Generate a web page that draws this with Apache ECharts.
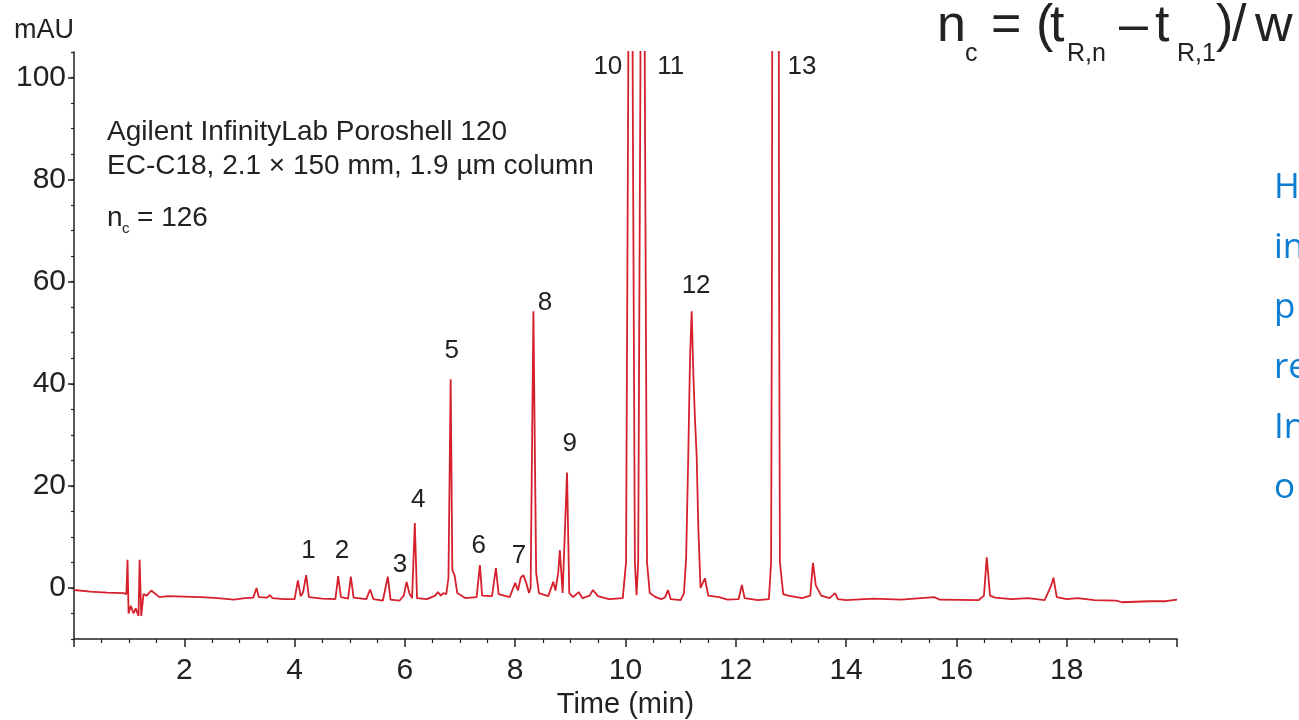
<!DOCTYPE html>
<html>
<head>
<meta charset="utf-8">
<script src="https://cdn.jsdelivr.net/npm/echarts@6/dist/echarts.min.js"></script>
<style>
    html, body { margin: 0; padding: 0; background: #fff; }
    #chart { width: 1299px; height: 720px; }
</style>
</head>
<body>
<div id="chart"></div>
<script>
// chromatogram trace (time in min, signal in mAU)
var traceTimes = [
    0.00, 0.30, 0.60, 0.90, 0.95, 0.97, 0.99, 1.03, 1.08, 1.12, 1.17, 1.19, 1.22, 1.26, 1.32, 1.40,
    1.55, 1.70, 2.00, 2.30, 2.60, 2.90, 3.10, 3.25, 3.31, 3.35, 3.50, 3.55, 3.60, 3.80,
    4.00, 4.06, 4.11, 4.15, 4.21, 4.26, 4.50, 4.74, 4.79, 4.84, 4.97, 5.02, 5.07, 5.30, 5.37, 5.43,
    5.60, 5.69, 5.74, 5.90, 5.98, 6.03, 6.08, 6.13, 6.18, 6.22, 6.40, 6.55, 6.60, 6.65, 6.70, 6.75,
    6.79, 6.83, 6.86, 6.90, 6.95, 7.10, 7.30, 7.36, 7.40, 7.58, 7.65, 7.70, 7.90, 8.00, 8.05, 8.10,
    8.15, 8.20, 8.25, 8.28, 8.33, 8.38, 8.43, 8.60, 8.69, 8.73, 8.78, 8.81, 8.86, 8.94, 8.98, 9.05,
    9.15, 9.22, 9.35, 9.41, 9.50, 9.70, 9.95,
    10.01, 10.05, 10.09, 10.13, 10.17, 10.20, 10.23, 10.27, 10.31, 10.35, 10.39, 10.44,
    10.55, 10.65, 10.72, 10.77, 10.82, 11.00, 11.06, 11.10, 11.14, 11.17, 11.20, 11.23, 11.26, 11.29,
    11.32, 11.36, 11.44, 11.50, 11.70, 11.85, 12.05, 12.11, 12.16, 12.40, 12.60,
    12.64, 12.655, 12.67, 12.72, 12.77, 12.785, 12.80, 12.86, 12.95, 13.20, 13.35, 13.40, 13.45, 13.48,
    13.55, 13.70, 13.80, 13.85, 14.00, 14.50, 15.00, 15.60, 15.70, 16.40, 16.50, 16.55, 16.61, 16.70,
    17.00, 17.30, 17.60, 17.72, 17.76, 17.82, 18.00, 18.20, 18.50, 18.90, 19.00, 19.50, 19.80, 20.00
];
var traceValues = [
    -0.4, -0.7, -0.9, -1.0, -1.2, 5.5, -5.0, -3.5, -5.0, -4.0, -5.5, 5.5, -5.5, -1.2, -1.5, -0.5,
    -1.8, -1.6, -1.7, -1.8, -2.0, -2.3, -2.0, -1.9, 0.0, -1.8, -1.9, -1.4, -2.0, -2.2,
    -2.2, 1.5, -1.6, -1.0, 2.5, -1.8, -2.1, -2.2, 2.3, -1.8, -2.1, 2.2, -1.9, -2.2, -0.3, -2.2,
    -2.5, 2.2, -2.3, -2.5, -1.5, 1.2, -1.0, -2.0, 12.7, -2.0, -2.2, -1.5, -0.8, -1.5, -1.0, -1.2,
    2.0, 40.9, 3.5, 2.5, -1.0, -2.0, -1.8, 4.5, -1.5, -1.6, 3.9, -1.2, -1.8, 1.0, -0.5, 2.0,
    2.5, 1.0, -1.0, 0.0, 54.2, 3.0, -1.0, -1.6, 1.2, -0.5, 3.0, 7.4, -1.0, 22.6, -1.0, -1.8,
    -0.8, -2.0, -1.5, -0.4, -1.6, -2.2, -2.0,
    5.0, 100, 400, 100, 5.0, -1.4, 5.0, 100, 400, 100, 5.0, -1.0,
    -1.8, -2.2, -1.8, -0.4, -2.2, -2.4, -1.0, 6.0, 27, 45, 54.2, 42, 33, 26,
    12, 0.0, 1.9, -1.5, -1.8, -2.3, -2.2, 0.6, -2.0, -2.4, -2.2,
    5.0, 60, 200, 600, 200, 60, 5.0, -1.2, -1.5, -2.0, -1.5, 4.9, 0.5, 0.2,
    -1.5, -2.0, -1.0, -2.2, -2.4, -2.1, -2.3, -1.8, -2.3, -2.4, -1.5, 6.0, -1.5, -1.9,
    -2.2, -2.0, -2.4, 0.5, 2.0, -1.8, -2.2, -2.0, -2.4, -2.5, -2.8, -2.6, -2.6, -2.3
];

// peak numbers and where they sit
var peakNames = ['1', '2', '3', '4', '5', '6', '7', '8', '9', '10', '11', '12', '13'];
var peakLabelTimes = [4.25, 4.86, 5.91, 6.24, 6.85, 7.34, 8.07, 8.54, 8.99, 9.68, 10.82, 11.28, 13.2];
var peakLabelValues = [7.2, 7.2, 4.5, 17.2, 46.4, 8.2, 6.2, 55.9, 28.3, 102.1, 102.1, 59.1, 102.1];

var yTickValues = [0, 20, 40, 60, 80, 100];

var FONT = '"Liberation Sans Narrow", "Liberation Sans", sans-serif';
var INK = '#222';

var trace = traceTimes.map(function (t, i) { return [t, traceValues[i]]; });
var labelPts = peakNames.map(function (n, i) { return [peakLabelTimes[i], peakLabelValues[i], n]; });

var chart = echarts.init(document.getElementById('chart'));

function txt(text, left, top, size) {
    return { type: 'text', left: left, top: top,
             style: { text: text, font: size + 'px ' + FONT, fill: INK } };
}

var option = {
    backgroundColor: '#fff',
    animation: false,
    grid: {
        left: 74, right: 122, top: 52, bottom: 81,
        containLabel: false,
        outerBoundsMode: 'none'
    },
    xAxis: {
        type: 'value',
        min: 0, max: 20, interval: 2,
        axisLine: { onZero: false, lineStyle: { color: '#222', width: 1.5 } },
        axisTick: { length: 8, lineStyle: { color: '#222', width: 1.5 } },
        minorTick: { show: true, splitNumber: 4, length: 4, lineStyle: { color: '#222', width: 1.2 } },
        splitLine: { show: false },
        axisLabel: {
            fontFamily: FONT, fontSize: 30, color: INK, margin: 17,
            formatter: function (v) { return (v === 0 || v === 20) ? '' : v; }
        },
        name: 'Time (min)',
        nameLocation: 'middle',
        nameGap: 46,
        nameTextStyle: { fontFamily: FONT, fontSize: 29, color: INK }
    },
    yAxis: [{
        type: 'value',
        min: -10, max: 105,
        position: 'left',
        axisLine: { show: true, onZero: false, lineStyle: { color: '#222', width: 1.5 } },
        axisTick: { show: true, length: 6, customValues: yTickValues, lineStyle: { color: '#222', width: 1.5 } },
        splitLine: { show: false },
        axisLabel: { customValues: yTickValues, fontFamily: FONT, fontSize: 30, color: INK, margin: 8 },
        name: 'mAU',
        nameLocation: 'end',
        nameGap: 8,
        nameTextStyle: { fontFamily: FONT, fontSize: 27, color: INK, align: 'right', verticalAlign: 'bottom' }
    }, {
        // minor ticks every 5 mAU
        type: 'value',
        min: -10, max: 105, interval: 5,
        position: 'left', offset: 0,
        axisLine: { show: false, onZero: false },
        axisTick: { show: true, length: 3, lineStyle: { color: '#222', width: 1.2 } },
        axisLabel: { show: false },
        splitLine: { show: false }
    }],
    series: [{
        type: 'line',
        data: trace,
        yAxisIndex: 0,
        showSymbol: false,
        clip: true,
        lineStyle: { color: '#d6202c', width: 1.8 },
        z: 3
    }, {
        type: 'scatter',
        data: labelPts,
        yAxisIndex: 0,
        symbolSize: 0,
        clip: false,
        itemStyle: { opacity: 1 },
        label: {
            show: true, position: 'inside',
            fontFamily: FONT, fontSize: 26, color: INK,
            formatter: function (p) { return p.data[2]; }
        },
        z: 4
    }],
    graphic: [
        txt('Agilent InfinityLab Poroshell 120', 107, 118, 28),
        txt('EC-C18, 2.1 × 150 mm, 1.9 µm column', 107, 152, 28),
        txt('n', 107, 204, 28),
        txt('c', 122, 221, 15),
        txt('= 126', 137, 204, 28),

        // formula, top right
        txt('n', 937, 1, 52),
        txt('c', 965, 42, 25),
        txt('=', 991, 1, 52),
        txt('(', 1036, 1, 52),
        txt('t', 1050, 1, 52),
        txt('R,n', 1067, 42, 25),
        txt('\u2013', 1119, 1, 52),
        txt('t', 1155, 1, 52),
        txt('R,1', 1177, 42, 25),
        txt(')', 1216, 1, 52),
        txt('/', 1232, 1, 52),
        txt('w', 1255, 1, 52),

        // blue text cut off by the right edge
        { type: 'text', left: 1274, top: 158,
          style: { text: 'H\nin\np\nre\nIn\no', font: '35px "Open Sans", "Noto Sans", sans-serif',
                   lineHeight: 60, fill: '#0b7dd2' } }
    ]
};
chart.setOption(option);
</script>
</body>
</html>
